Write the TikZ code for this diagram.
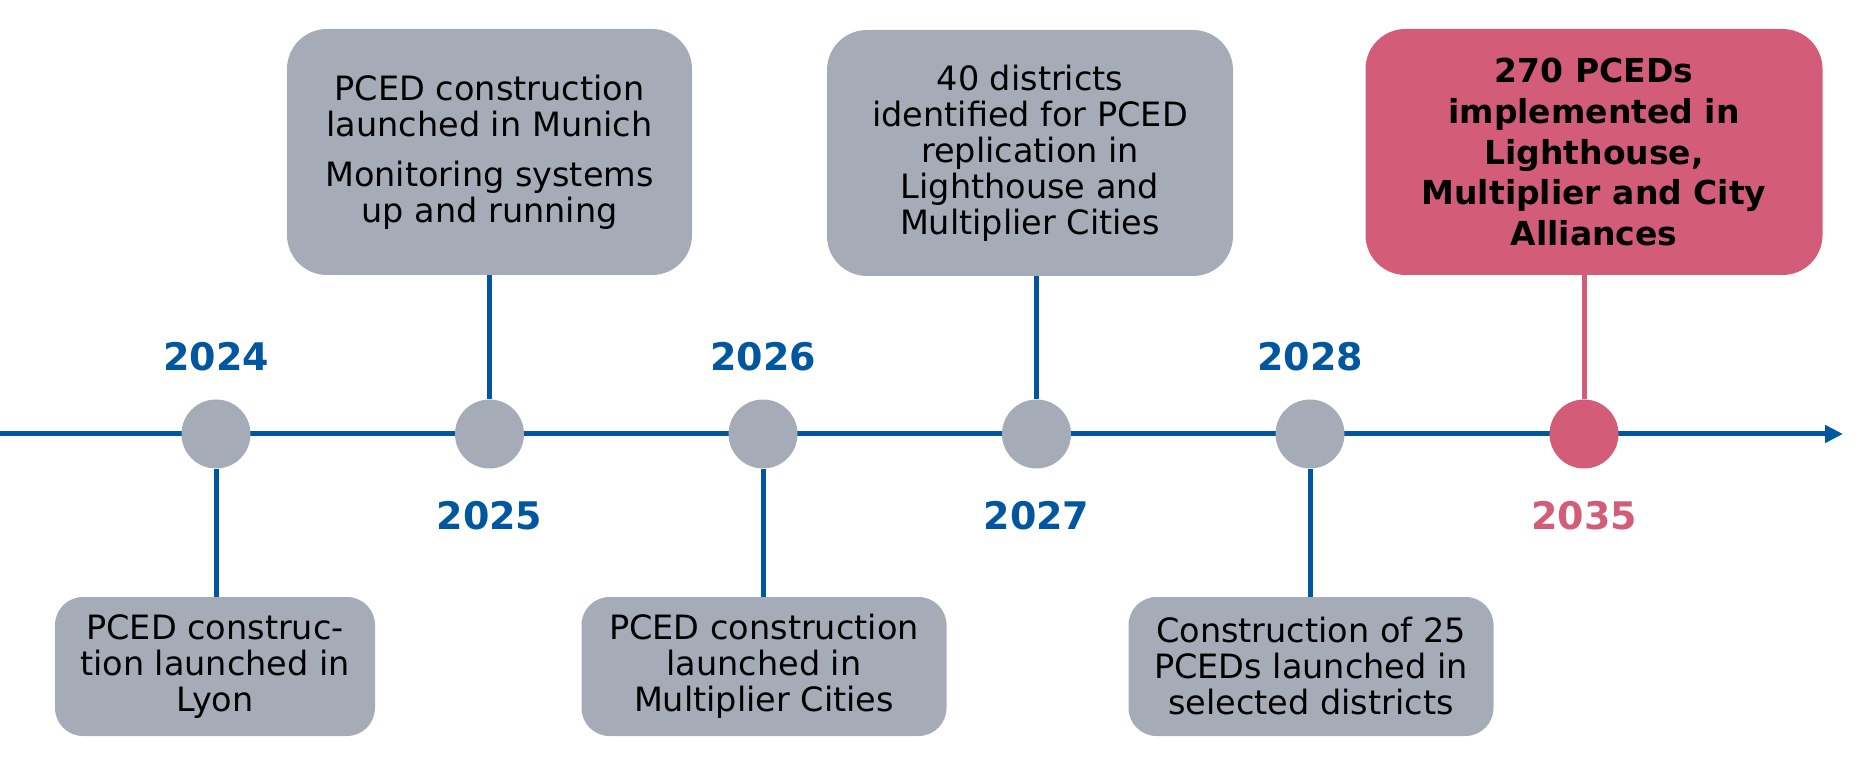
\documentclass[tikz,border=0pt]{standalone}
\usepackage{fontspec}
\setmainfont{DejaVu Sans}
\usetikzlibrary{arrows.meta}
\definecolor{tlblue}{RGB}{0,87,160}
\definecolor{tlgrey}{RGB}{166,172,183}
\definecolor{tlpink}{RGB}{211,93,120}
\begin{document}
\begin{tikzpicture}[x=1pt,y=1pt,
    dot/.style={circle,fill=tlgrey,minimum size=69pt,inner sep=0pt},
    box/.style={fill=tlgrey,align=center,inner sep=0pt,font=\fontsize{33.5}{36}\selectfont},
    topbox/.style={box,rounded corners=40pt,minimum height=246pt},
    lowbox/.style={box,rounded corners=28pt,minimum height=139pt,minimum width=365pt},
    year/.style={anchor=base,text=tlblue,font=\fontsize{38}{40}\selectfont\bfseries},
    link/.style={tlblue,line width=5pt}]
    \useasboundingbox (0,0) rectangle (1863,761);
    % time axis
    \coordinate (start) at (0,327);
    \coordinate (end) at (1843,327);
    \draw[link,-{Triangle[length=18pt,width=17pt]}] (start) -- (end);
    \foreach \yr [count=\i from 0] in {2024,2025,2026,2027,2028}
        \node[dot] (d\yr) at (216+273.5*\i,327) {};
    \node[dot,fill=tlpink] (d2035) at (1584,327) {};
    % years
    \node[year] (y2024) at (216,390) {2024};
    \node[year] (y2025) at (489.5,232) {2025};
    \node[year] (y2026) at (763,390) {2026};
    \node[year] (y2027) at (1036.5,232) {2027};
    \node[year] (y2028) at (1310,390) {2028};
    \node[year,text=tlpink] (y2035) at (1584,232) {2035};
    % milestones above
    \node[topbox,minimum width=405pt] (b2025) at (489.5,609) {PCED construction\\launched in Munich\\[14pt]Monitoring systems\\up and running};
    \node[topbox,minimum width=406pt] (b2027) at (1030,608) {40 districts\\identified for PCED\\replication in\\Lighthouse and\\Multiplier Cities};
    \node[topbox,minimum width=457pt,fill=tlpink,font=\fontsize{33}{40.7}\selectfont\bfseries] (b2035) at (1594,609) {270 PCEDs\\implemented in\\Lighthouse,\\Multiplier and City\\Alliances};
    % milestones below
    \node[lowbox,minimum width=320pt] (b2024) at (215,94.5) {PCED construc-\\tion launched in\\Lyon};
    \node[lowbox] (b2026) at (764,94.5) {PCED construction\\launched in\\Multiplier Cities};
    \node[lowbox] (b2028) at (1311,94.5) {Construction of 25\\PCEDs launched in\\selected districts};
    % connectors
    \draw[link] (b2024.north -| d2024) -- (d2024.south);
    \draw[link] (b2025.south -| d2025) -- (d2025.north);
    \draw[link] (b2026.north -| d2026) -- (d2026.south);
    \draw[link] (b2027.south -| d2027) -- (d2027.north);
    \draw[link] (b2028.north -| d2028) -- (d2028.south);
    \draw[link,tlpink] (b2035.south -| d2035) -- (d2035.north);
\end{tikzpicture}
\end{document}
